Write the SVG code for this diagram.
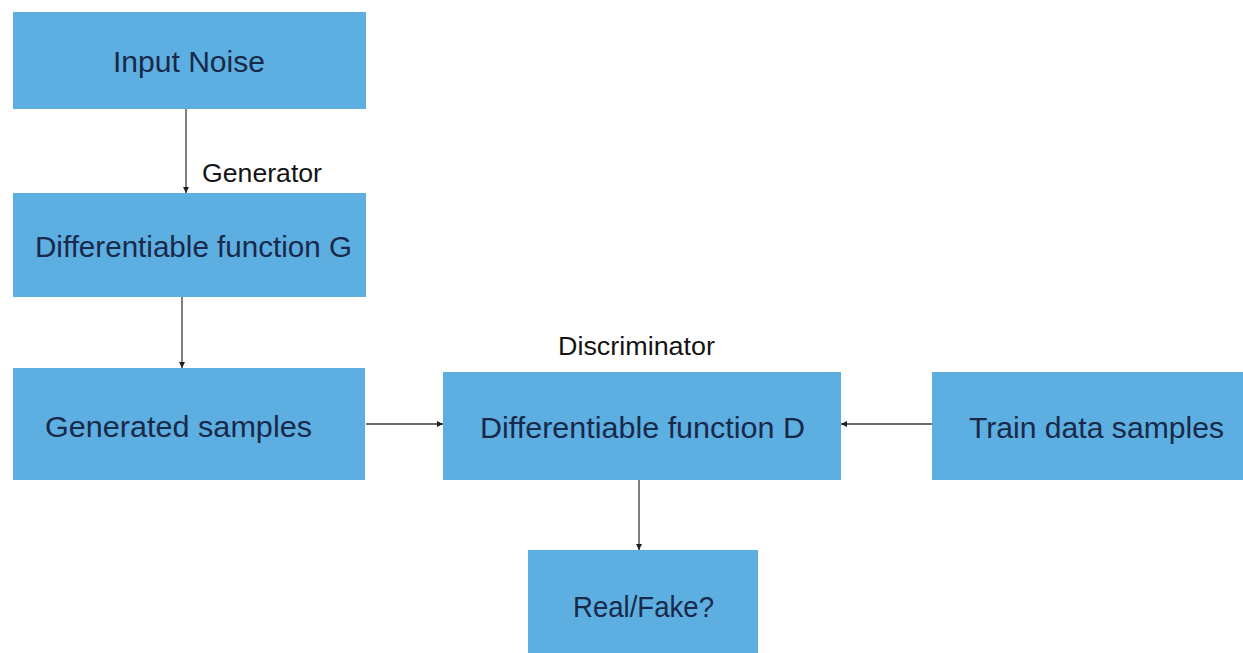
<svg xmlns="http://www.w3.org/2000/svg" width="1243" height="653" viewBox="0 0 1243 653">
  <style>
    .box { fill: #5eafe1; }
    .txt { font-family: "Liberation Sans", Arial, sans-serif; font-size: 30px; fill: #18294a; }
    .lbl { font-family: "Liberation Sans", Arial, sans-serif; font-size: 25px; fill: #141414; }
    .edge { stroke: #3a3a3a; stroke-width: 1.3; fill: none; marker-end: url(#arrow); }
  </style>
  <defs>
    <marker id="arrow" viewBox="0 0 10 10" refX="10" refY="5" markerWidth="6" markerHeight="6" markerUnits="userSpaceOnUse" orient="auto">
      <path d="M0,0 L10,5 L0,10 z" fill="#1e1e1e"/>
    </marker>
  </defs>

  <rect width="1243" height="653" fill="#ffffff"/>

  <g id="connectors">
    <line class="edge" x1="186" y1="109" x2="186" y2="193"/>
    <line class="edge" x1="182" y1="297" x2="182" y2="368"/>
    <line class="edge" x1="366" y1="424" x2="443" y2="424"/>
    <line class="edge" x1="932" y1="424" x2="841" y2="424"/>
    <line class="edge" x1="639" y1="480" x2="639" y2="550"/>
    <text class="lbl" x="202" y="182" textLength="120" lengthAdjust="spacingAndGlyphs">Generator</text>
    <text class="lbl" x="558" y="355" textLength="157" lengthAdjust="spacingAndGlyphs">Discriminator</text>
  </g>

  <g id="input-noise">
    <rect class="box" x="13" y="12" width="353" height="97"/>
    <text class="txt" x="113" y="72" textLength="152" lengthAdjust="spacingAndGlyphs">Input Noise</text>
  </g>

  <g id="function-g">
    <rect class="box" x="13" y="193" width="353" height="104"/>
    <text class="txt" x="35" y="257" textLength="317" lengthAdjust="spacingAndGlyphs">Differentiable function G</text>
  </g>

  <g id="generated-samples">
    <rect class="box" x="13" y="368" width="352" height="112"/>
    <text class="txt" x="45" y="437" textLength="267" lengthAdjust="spacingAndGlyphs">Generated samples</text>
  </g>

  <g id="function-d">
    <rect class="box" x="443" y="372" width="398" height="108"/>
    <text class="txt" x="480" y="438" textLength="325" lengthAdjust="spacingAndGlyphs">Differentiable function D</text>
  </g>

  <g id="train-data">
    <rect class="box" x="932" y="372" width="311" height="108"/>
    <text class="txt" x="969" y="438" textLength="255" lengthAdjust="spacingAndGlyphs">Train data samples</text>
  </g>

  <g id="real-fake">
    <rect class="box" x="528" y="550" width="230" height="103"/>
    <text class="txt" x="573" y="617" textLength="141" lengthAdjust="spacingAndGlyphs">Real/Fake?</text>
  </g>
</svg>
